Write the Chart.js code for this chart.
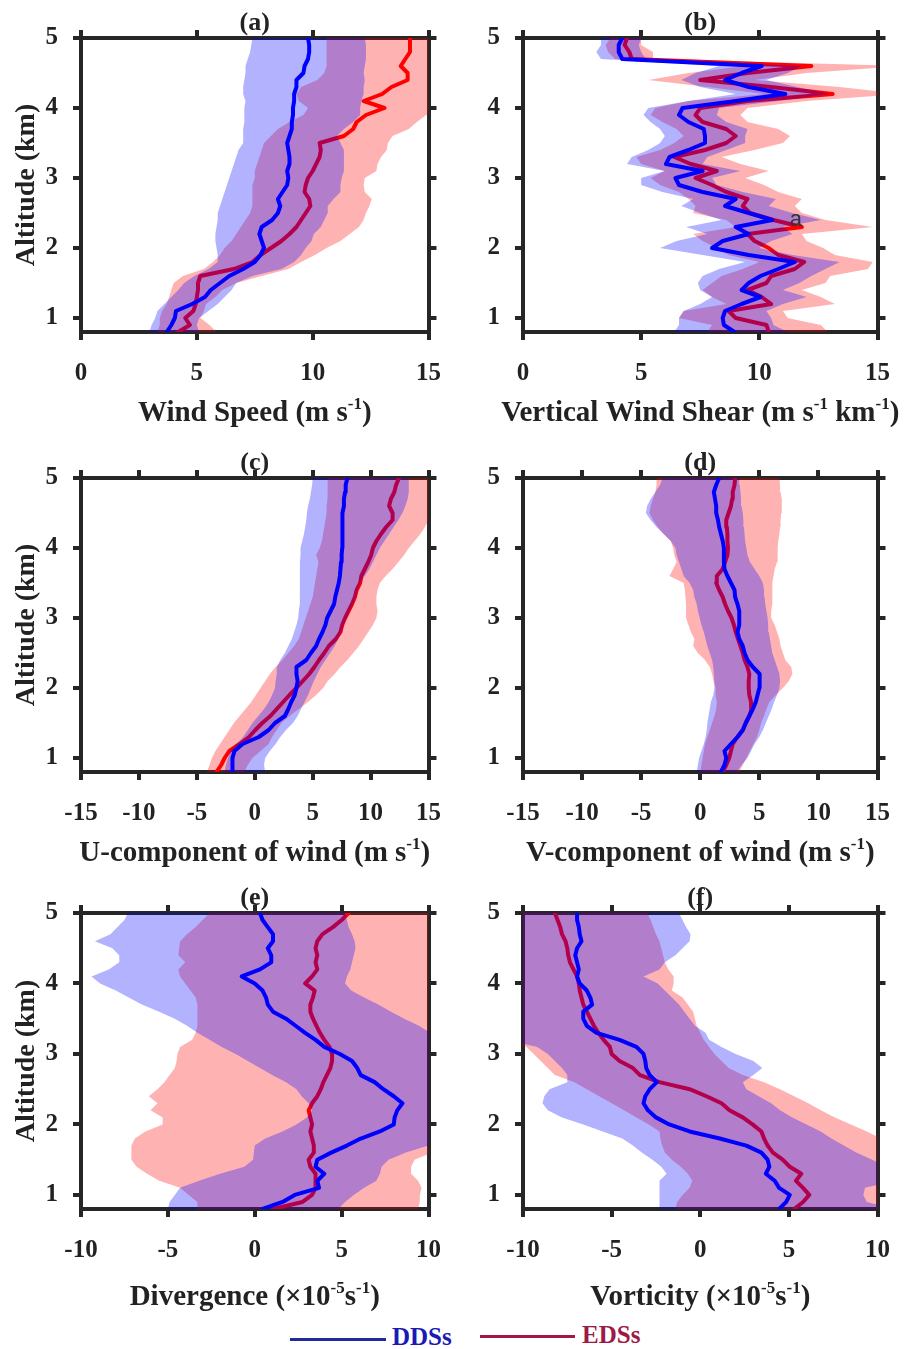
<!DOCTYPE html>
<html>
<head>
<meta charset="utf-8">
<title>DDSs vs EDSs profiles</title>
<script src="https://cdn.jsdelivr.net/npm/chart.js@4.4.1/dist/chart.umd.min.js"></script>
<style>
  html, body { margin: 0; padding: 0; background: #fff; }
  #page { position: relative; width: 909px; height: 1349px; overflow: hidden; background: #fff; }
  #page canvas { position: absolute; }
  .key { position: absolute; height: 3px; }
  .keytext { position: absolute; font: bold 25px 'Liberation Serif', 'Times New Roman', serif; line-height: 25px; }
</style>
</head>
<body>
<div id="page">
  <canvas id="panelA"></canvas>
  <canvas id="panelB"></canvas>
  <canvas id="panelC"></canvas>
  <canvas id="panelD"></canvas>
  <canvas id="panelE"></canvas>
  <canvas id="panelF"></canvas>
  <div class="key" style="left:290px; top:1338px; width:96px; background:#1f2a9c;"></div>
  <div class="keytext" style="left:392px; top:1324px; color:#1a1ab4;">DDSs</div>
  <div class="key" style="left:480px; top:1335px; width:95px; background:#a3164a;"></div>
  <div class="keytext" style="left:582px; top:1322px; color:#9c1a45;">EDSs</div>
</div>

<script>
// Altitude levels (km) shared by every profile
const altitude = [
  0.8, 0.9, 1.0, 1.1, 1.2, 1.3, 1.4, 1.5, 1.6, 1.7,
  1.8, 1.9, 2.0, 2.1, 2.2, 2.3, 2.4, 2.5, 2.6, 2.7,
  2.8, 2.9, 3.0, 3.1, 3.2, 3.3, 3.4, 3.5, 3.6, 3.7,
  3.8, 3.9, 4.0, 4.1, 4.2, 4.3, 4.4, 4.5, 4.6, 4.7,
  4.8, 4.9, 5.0
];

// Tick labels
const altitudeTicks = [1, 2, 3, 4, 5];
const speedTicks = [0, 5, 10, 15];
const componentTicks = [-15, -10, -5, 0, 5, 10, 15];
const gradientTicks = [-10, -5, 0, 5, 10];

// (a) Wind speed (m/s)
const speedDdsMean = [
  3.7, 3.9, 4.05, 4.1, 4.8, 5.35, 5.6, 6.0, 6.4, 7.0,
  7.5, 7.75, 7.9, 7.8, 7.7, 7.8, 8.25, 8.5, 8.6, 8.5,
  8.7, 8.9, 8.95, 8.9, 9.0, 9.0, 8.95, 8.9, 9.0, 9.1,
  9.1, 9.15, 9.15, 9.2, 9.2, 9.3, 9.3, 9.6, 9.65, 9.8,
  9.85, 9.85, 9.8
];
const speedDdsLow = [
  2.95, 3.05, 3.2, 3.3, 3.6, 3.9, 4.2, 4.45, 4.9, 5.5,
  5.9, 5.9, 5.85, 5.8, 5.8, 5.85, 5.9, 5.9, 6.0, 6.1,
  6.2, 6.3, 6.4, 6.5, 6.6, 6.7, 6.8, 7.0, 7.0, 7.0,
  7.05, 7.05, 7.05, 7.1, 7.0, 7.0, 7.05, 7.1, 7.1, 7.2,
  7.3, 7.35, 7.4
];
const speedDdsHigh = [
  5.1, 5.0, 5.1, 5.5, 5.9, 6.2, 6.5, 6.7, 7.4, 8.65,
  9.2, 9.5, 9.7, 9.95, 10.05, 10.35, 10.5, 10.65, 10.65, 10.9,
  11.2, 11.2, 11.25, 11.35, 11.35, 11.35, 11.35, 11.2, 11.05, 11.35,
  11.75, 12.05, 12.05, 12.1, 12.2, 12.2, 12.25, 12.2, 12.25, 12.3,
  12.3, 12.3, 12.25
];
const speedEdsMean = [
  4.2, 4.7, 4.5, 4.85, 4.95, 5.0, 5.05, 5.05, 5.15, 6.6,
  7.4, 7.75, 8.2, 8.65, 9.0, 9.3, 9.5, 9.7, 9.9, 9.85,
  9.65, 9.7, 9.8, 10.0, 10.15, 10.3, 10.35, 10.3, 11.35, 11.75,
  11.9, 12.3, 13.1, 12.2, 13.0, 13.4, 14.1, 14.1, 13.8, 14.0,
  14.2, 14.2, 14.2
];
const speedEdsLow = [
  3.3, 3.4, 3.4, 3.5, 3.7, 3.8, 3.9, 4.0, 4.4, 5.3,
  5.7, 6.0, 6.2, 6.5, 6.7, 6.9, 7.1, 7.3, 7.4, 7.4,
  7.4, 7.4, 7.5, 7.5, 7.6, 7.7, 7.8, 7.9, 8.2, 8.5,
  9.0, 9.6, 9.8, 9.4, 9.3, 9.5, 10.2, 10.5, 10.6, 10.6,
  10.6, 10.6, 10.6
];
const speedEdsHigh = [
  5.85, 5.55, 5.15, 5.3, 5.4, 5.8, 6.1, 6.7, 7.8, 8.95,
  9.5, 10.1, 10.6, 11.2, 11.6, 12.0, 12.2, 12.3, 12.45, 12.55,
  12.25, 12.2, 12.25, 12.75, 12.8, 12.95, 13.2, 13.25, 13.45, 14.15,
  14.5, 14.9, 15.5, 15.5, 15.5, 15.5, 15.5, 15.5, 15.5, 15.5,
  15.5, 15.5, 15.5
];

// (b) Vertical wind shear (m/s/km)
const shearDdsMean = [
  8.95, 8.5, 8.45, 8.55, 9.25, 10.05, 9.25, 9.55, 10.05, 10.8,
  11.5, 9.55, 8.0, 8.45, 9.55, 9.0, 10.55, 9.55, 8.55, 9.0,
  7.6, 6.6, 6.45, 7.6, 6.05, 6.2, 7.0, 7.7, 7.7, 7.65,
  7.0, 6.6, 6.75, 9.0, 11.1, 9.55, 8.55, 9.25, 10.1, 4.2,
  4.05, 4.05, 4.2
];
const shearDdsLow = [
  6.4, 6.6, 6.6, 6.8, 7.5, 8.0, 7.5, 7.4, 7.6, 8.3,
  9.4, 7.6, 5.8, 6.5, 7.8, 6.9, 8.4, 7.5, 6.7, 7.2,
  5.9, 5.0, 5.0, 6.0, 4.4, 4.6, 5.3, 5.8, 6.0, 5.8,
  5.4, 5.1, 5.3, 7.0, 9.0, 7.5, 6.7, 7.3, 8.3, 3.3,
  3.1, 3.3, 3.3
];
const shearDdsHigh = [
  11.2, 10.6, 10.5, 10.3, 11.0, 12.0, 11.0, 11.7, 12.2, 12.8,
  13.4, 11.4, 10.0, 10.5, 11.4, 11.0, 12.6, 11.4, 10.4, 10.7,
  9.3, 8.2, 8.0, 9.2, 7.6, 7.8, 8.6, 9.4, 9.4, 9.5,
  8.6, 8.2, 8.3, 10.8, 13.0, 11.6, 10.3, 11.2, 11.8, 5.2,
  5.0, 4.9, 5.0
];
const shearEdsMean = [
  10.4, 10.3, 9.0, 8.7, 10.5, 10.1, 9.5, 10.3, 10.5, 11.5,
  11.9, 10.8, 10.4, 9.8, 9.5, 11.8, 10.6, 9.6, 9.3, 9.5,
  8.6, 8.0, 7.3, 8.2, 7.1, 6.4, 7.7, 8.6, 9.0, 8.6,
  7.6, 7.3, 7.5, 9.5, 13.1, 10.5, 7.5, 9.5, 12.2, 4.6,
  4.5, 4.3, 4.4
];
const shearEdsLow = [
  7.8, 8.0, 6.6, 6.8, 8.6, 8.0, 7.6, 8.0, 8.4, 9.3,
  10.0, 8.7, 8.2, 7.6, 7.2, 9.0, 8.6, 7.2, 7.3, 7.0,
  6.6, 5.8, 5.4, 6.0, 5.0, 4.8, 5.8, 6.4, 6.8, 6.5,
  5.9, 5.4, 5.6, 7.0, 10.2, 7.8, 5.3, 7.0, 9.4, 3.9,
  3.6, 3.5, 3.7
];
const shearEdsHigh = [
  12.9, 12.6, 11.2, 11.0, 13.2, 12.6, 11.8, 12.8, 13.0, 14.6,
  14.8, 13.2, 12.7, 12.0, 11.8, 14.8, 12.8, 11.8, 11.5, 11.8,
  10.8, 10.2, 9.4, 10.4, 9.2, 8.4, 9.8, 11.0, 11.3, 10.8,
  9.5, 9.2, 9.5, 12.0, 16.0, 13.4, 9.8, 12.0, 16.0, 5.5,
  5.5, 5.0, 5.0
];

// (c) U-component (m/s)
const uDdsMean = [
  -1.9, -1.95, -1.9, -1.75, -1.05, 0.35, 1.2, 1.75, 2.6, 2.9,
  3.15, 3.45, 3.6, 3.7, 3.6, 3.6, 4.45, 4.85, 5.3, 5.55,
  5.85, 6.1, 6.25, 6.55, 6.85, 6.95, 7.1, 7.25, 7.35, 7.4,
  7.45, 7.5, 7.55, 7.55, 7.55, 7.6, 7.55, 7.6, 7.7, 7.7,
  7.8, 7.85, 8.0
];
const uDdsLow = [
  -2.6, -2.5, -2.3, -2.1, -1.6, -1.0, -0.6, -0.2, 0.3, 0.8,
  1.2, 1.5, 1.75, 1.8, 1.9, 1.9, 2.2, 2.6, 2.9, 3.2,
  3.4, 3.6, 3.75, 3.8, 3.85, 3.9, 3.9, 3.9, 3.9, 3.9,
  3.9, 3.95, 3.95, 4.1, 4.25, 4.35, 4.45, 4.5, 4.6, 4.75,
  4.85, 4.95, 5.0
];
const uDdsHigh = [
  0.9, 0.8, 0.9, 1.3, 1.8, 2.2, 2.7, 3.3, 3.7, 4.0,
  4.3, 4.6, 4.85, 5.1, 5.4, 5.7, 6.1, 6.5, 6.9, 7.2,
  7.5, 7.7, 7.95, 8.2, 8.5, 8.75, 8.9, 9.1, 9.5, 9.9,
  10.2, 10.5, 10.8, 11.2, 11.6, 12.0, 12.4, 12.75, 13.0, 13.2,
  13.3, 13.3, 13.3
];
const uEdsMean = [
  -3.3, -2.9, -2.6, -2.2, -1.3, -0.5, 0.05, 0.65, 1.35, 1.9,
  2.45, 3.0, 3.6, 4.15, 4.7, 5.15, 5.55, 6.0, 6.4, 7.0,
  7.4, 7.55, 7.8, 8.1, 8.4, 8.65, 8.8, 9.1, 9.2, 9.5,
  9.8, 10.05, 10.2, 10.5, 10.9, 11.35, 11.9, 11.9, 11.6, 11.75,
  12.05, 12.2, 12.45
];
const uEdsLow = [
  -4.15, -3.9, -3.7, -3.4, -3.0, -2.6, -2.2, -1.8, -1.3, -0.8,
  -0.3, 0.1, 0.5, 0.9, 1.3, 1.8, 2.4, 2.9, 3.4, 3.8,
  4.0, 4.2, 4.4, 4.6, 4.8, 5.0, 5.1, 5.2, 5.3, 5.4,
  5.5, 5.3, 5.6, 5.8, 5.9, 6.0, 6.1, 6.2, 6.2, 6.25,
  6.3, 6.3, 6.3
];
const uEdsHigh = [
  -0.9, -0.6, -0.2, 0.5, 1.2, 1.5, 1.9, 2.3, 3.0, 3.8,
  4.6, 5.3, 5.9, 6.3, 6.9, 7.4, 8.0, 8.5, 9.0, 9.4,
  9.8, 10.2, 10.5, 10.6, 10.5, 10.5, 10.6, 10.8, 11.3, 11.9,
  12.4, 12.9, 13.3, 13.8, 14.3, 14.7, 15.0, 15.3, 15.5, 15.5,
  15.5, 15.5, 15.5
];

// (d) V-component (m/s)
const vDdsMean = [
  1.75, 2.05, 2.2, 2.05, 2.6, 3.15, 3.6, 3.85, 4.15, 4.45,
  4.7, 4.85, 5.0, 5.05, 5.0, 4.45, 4.0, 3.75, 3.6, 3.3,
  3.15, 3.3, 3.3, 3.3, 3.15, 2.95, 2.9, 2.6, 2.3, 2.05,
  2.0, 2.0, 2.0, 1.9, 1.75, 1.6, 1.5, 1.35, 1.35, 1.25,
  1.15, 1.35, 1.6
];
const vDdsLow = [
  -0.3, -0.2, -0.1, 0.1, 0.3, 0.45, 0.55, 0.6, 0.7, 0.8,
  0.9, 1.1, 1.2, 1.2, 1.15, 1.1, 1.0, 0.8, 0.6, 0.45,
  0.3, 0.1, -0.05, -0.2, -0.3, -0.5, -0.6, -0.9, -1.4, -1.6,
  -1.8, -2.0, -2.1, -2.5, -3.1, -3.7, -4.2, -4.6, -4.5, -4.2,
  -3.8, -3.4, -3.2
];
const vDdsHigh = [
  3.1, 3.5, 4.0, 4.3, 4.6, 5.0, 5.3, 5.55, 5.8, 6.05,
  6.25, 6.5, 6.7, 6.75, 6.7, 6.5, 6.3, 6.1, 6.0, 5.9,
  5.8, 5.75, 5.7, 5.6, 5.5, 5.45, 5.4, 5.3, 5.0, 4.6,
  4.2, 4.0, 3.9, 3.8, 3.75, 3.7, 3.65, 3.6, 3.5, 3.45,
  3.4, 3.35, 3.3
];
const vEdsMean = [
  1.9, 2.2, 2.45, 2.6, 2.75, 3.15, 3.6, 3.85, 4.15, 4.35,
  4.3, 4.15, 4.1, 4.1, 4.15, 4.0, 3.75, 3.6, 3.4, 3.2,
  3.0, 2.85, 2.65, 2.35, 2.1, 1.9, 1.6, 1.35, 1.4, 1.9,
  2.1, 2.3, 2.35, 2.3, 2.3, 2.25, 2.2, 2.4, 2.6, 2.7,
  2.75, 2.9, 2.95
];
const vEdsLow = [
  0.0, 0.1, 0.2, 0.3, 0.4, 0.6, 0.8, 1.0, 1.2, 1.35,
  1.4, 1.3, 1.3, 1.1, 1.0, 0.8, 0.4, -0.2, -0.6, -0.5,
  -0.8, -1.0, -1.2, -1.2, -1.2, -1.25, -1.3, -1.4, -2.6, -2.3,
  -2.0, -2.2, -2.3, -2.5, -3.1, -3.6, -4.0, -4.3, -4.2, -4.0,
  -3.8, -3.7, -3.7
];
const vEdsHigh = [
  3.3, 3.6, 3.9, 4.2, 4.5, 4.8, 5.0, 5.15, 5.4, 5.6,
  5.85, 6.4, 7.0, 7.5, 7.8, 7.7, 7.2, 7.0, 6.8, 6.7,
  6.5, 6.3, 6.0, 6.0, 6.1, 6.1, 6.1, 6.1, 6.2, 6.3,
  6.5, 6.55, 6.55, 6.6, 6.7, 6.75, 6.8, 6.85, 6.9, 6.9,
  6.8, 6.75, 6.7
];

// (e) Divergence (1e-5 /s)
const divDdsMean = [
  0.45, 1.6, 2.3, 3.7, 3.6, 4.0, 3.5, 3.6, 4.4, 5.3,
  6.1, 7.2, 8.0, 8.05, 8.2, 8.5, 8.0, 7.4, 6.9, 6.1,
  5.9, 5.6, 4.9, 4.0, 3.5, 2.9, 2.35, 1.8, 1.05, 0.75,
  0.65, 0.45, 0.0, -0.75, 0.3, 0.95, 0.95, 0.75, 1.05, 1.05,
  0.75, 0.45, 0.3
];
const divDdsLow = [
  -5.0, -4.9, -4.6, -4.3, -3.2, -2.0, -0.6, -0.1, -0.05, 0.0,
  0.6, 1.6, 2.4, 3.0, 3.3, 3.1, 2.7, 2.4, 1.8, 1.0,
  0.3, -0.4, -1.1, -1.9, -2.6, -3.3, -3.9, -4.6, -5.5, -6.5,
  -7.25, -8.0, -8.9, -9.4, -8.4, -7.8, -7.8, -8.2, -9.2, -8.3,
  -7.9, -7.5, -7.3
];
const divDdsHigh = [
  4.8, 5.2, 5.7, 6.3, 7.0, 7.2, 7.3, 7.7, 8.7, 10.0,
  11, 11, 11, 11, 11, 11, 11, 11, 11, 11,
  11, 11, 11, 11, 11, 10.1, 9.45, 8.6, 7.85, 7.1,
  6.3, 5.55, 5.2, 5.3, 5.5, 5.6, 5.7, 5.8, 5.75, 5.6,
  5.4, 5.3, 5.2
];
const divEdsMean = [
  1.05, 2.75, 3.3, 3.5, 3.5, 3.5, 3.2, 3.1, 3.4, 3.4,
  3.3, 3.2, 3.3, 3.2, 3.1, 3.3, 3.6, 3.8, 3.95, 4.15,
  4.35, 4.45, 4.45, 4.3, 4.0, 3.75, 3.55, 3.35, 3.2, 3.2,
  3.35, 3.45, 2.9, 3.3, 3.6, 3.5, 3.6, 3.5, 3.6, 3.9,
  4.5, 5.0, 5.4
];
const divEdsLow = [
  -3.3, -3.3, -3.8, -4.3, -5.5, -6.2, -6.8, -7.1, -7.1, -7.1,
  -6.9, -6.3, -5.3, -5.3, -6.0, -5.6, -6.1, -5.6, -5.2, -4.9,
  -4.6, -4.5, -4.45, -4.3, -3.6, -3.4, -3.3, -3.3, -3.3, -3.3,
  -3.4, -3.7, -4.0, -4.3, -4.4, -4.0, -4.4, -4.35, -4.3, -3.9,
  -3.4, -3.0, -2.6
];
const divEdsHigh = [
  9.4, 9.5, 9.5, 9.6, 9.4, 9.0, 9.0, 9.2, 10.2, 10.6,
  11, 11, 11, 11, 11, 11, 11, 11, 11, 11,
  11, 11, 11, 11, 11, 11, 11, 11, 11, 11,
  11, 11, 11, 11, 11, 11, 11, 11, 11, 11,
  11, 11, 11
];

// (f) Vorticity (1e-5 /s)
const vortDdsMean = [
  4.45, 4.85, 5.05, 4.45, 4.2, 3.7, 3.9, 3.8, 3.45, 2.6,
  1.1, -0.6, -1.75, -2.5, -2.95, -3.2, -3.1, -2.85, -2.45, -2.85,
  -3.05, -3.1, -3.2, -3.6, -4.55, -5.85, -6.4, -6.6, -6.6, -6.1,
  -6.2, -6.4, -6.8, -6.95, -6.85, -6.95, -7.05, -6.95, -6.7, -6.8,
  -6.85, -6.95, -6.95
];
const vortDdsLow = [
  -2.3, -2.3, -2.3, -2.3, -2.3, -1.9, -2.2, -2.7, -3.3, -3.8,
  -4.4, -5.5, -6.6, -7.8, -8.6, -8.9, -8.8, -8.5, -7.5, -7.5,
  -7.8, -8.2, -8.6, -9.2, -11, -11, -11, -11, -11, -11,
  -11, -11, -11, -11, -11, -11, -11, -11, -11, -11,
  -11, -11, -11
];
const vortDdsHigh = [
  11, 9.4, 9.2, 9.3, 11, 11, 10.5, 9.7, 8.8, 8.1,
  7.4, 6.8, 6.0, 5.2, 4.5, 4.0, 3.3, 2.6, 2.4, 3.0,
  3.5, 3.0, 2.0, 1.2, 0.5, 0.3, -0.3, -0.6, -0.9, -1.2,
  -1.6, -2.0, -2.4, -3.2, -2.3, -2.0, -1.4, -1.0, -0.6, -0.55,
  -0.8, -1.0, -1.2
];
const vortEdsMean = [
  5.3, 5.8, 6.15, 5.8, 5.4, 5.7, 5.05, 4.65, 4.1, 3.8,
  3.6, 3.45, 2.95, 2.4, 1.65, 1.2, 0.35, -0.6, -2.3, -3.4,
  -3.8, -4.55, -5.0, -5.1, -5.45, -5.75, -6.0, -6.2, -6.4, -6.6,
  -6.7, -6.8, -6.85, -6.95, -7.15, -7.35, -7.45, -7.5, -7.6, -7.8,
  -7.9, -8.05, -8.2
];
const vortEdsLow = [
  -1.4, -1.3, -1.0, -0.6, -0.45, -0.7, -1.1, -1.6, -2.0, -2.15,
  -2.25, -2.3, -2.9, -3.6, -4.3, -5.0, -5.7, -6.4, -7.1, -8.2,
  -8.6, -9.0, -9.4, -9.8, -11, -11, -11, -11, -11, -11,
  -11, -11, -11, -11, -11, -11, -11, -11, -11, -11,
  -11, -11, -11
];
const vortEdsHigh = [
  11, 11, 11, 11, 11, 11, 11, 11, 11, 11,
  10.2, 9.4, 8.5, 7.6, 6.8, 6.1, 5.3, 4.5, 3.6, 2.4,
  1.6, 1.2, 0.8, 0.5, 0.2, 0.0, -0.2, -0.3, -0.4, -0.7,
  -1.0, -1.6, -1.5, -1.5, -1.8, -2.0, -2.1, -2.2, -2.3, -2.5,
  -2.65, -2.8, -3.0
];

const SERIF = "'Liberation Serif', 'Times New Roman', serif";
const FRAME = '#262626';
const INK = '#222';

// one panel per canvas; box = canvas on the page, plot = frame edges on the page
const panels = [
  {
    id: 'panelA', tag: '(a)', yTitle: true, titleDrop: 89,
    box: {left: 0, top: 0, width: 460, height: 440},
    plot: {l: 81, r: 437, t: 38, b: 332},
    xMin: 0, xMax: 15, xTicks: speedTicks,
    xTitle: [['Wind Speed (m s'], ['-1', true], [')']],
    eds: {mean: speedEdsMean, low: speedEdsLow, high: speedEdsHigh},
    dds: {mean: speedDdsMean, low: speedDdsLow, high: speedDdsHigh}
  },
  {
    id: 'panelB', tag: '(b)', yTitle: false, titleDrop: 89,
    box: {left: 460, top: 0, width: 449, height: 440},
    plot: {l: 523, r: 879, t: 38, b: 332},
    xMin: 0, xMax: 15, xTicks: speedTicks,
    xTitle: [['Vertical Wind Shear (m s'], ['-1', true], [' km'], ['-1', true], [')']],
    note: {text: 'a', x: 11.55, y: 2.4},
    eds: {mean: shearEdsMean, low: shearEdsLow, high: shearEdsHigh},
    dds: {mean: shearDdsMean, low: shearDdsLow, high: shearDdsHigh}
  },
  {
    id: 'panelC', tag: '(c)', yTitle: true, titleDrop: 89,
    box: {left: 0, top: 440, width: 460, height: 440},
    plot: {l: 81, r: 437, t: 478, b: 772},
    xMin: -15, xMax: 15, xTicks: componentTicks,
    xTitle: [['U-component of wind (m s'], ['-1', true], [')']],
    eds: {mean: uEdsMean, low: uEdsLow, high: uEdsHigh},
    dds: {mean: uDdsMean, low: uDdsLow, high: uDdsHigh}
  },
  {
    id: 'panelD', tag: '(d)', yTitle: false, titleDrop: 89,
    box: {left: 460, top: 440, width: 449, height: 440},
    plot: {l: 523, r: 879, t: 478, b: 772},
    xMin: -15, xMax: 15, xTicks: componentTicks,
    xTitle: [['V-component of wind (m s'], ['-1', true], [')']],
    eds: {mean: vEdsMean, low: vEdsLow, high: vEdsHigh},
    dds: {mean: vDdsMean, low: vDdsLow, high: vDdsHigh}
  },
  {
    id: 'panelE', tag: '(e)', yTitle: true, titleDrop: 96,
    box: {left: 0, top: 880, width: 460, height: 440},
    plot: {l: 81, r: 436, t: 913, b: 1209},
    xMin: -10, xMax: 10, xTicks: gradientTicks,
    xTitle: [['Divergence (\u00d710'], ['-5', true], ['s'], ['-1', true], [')']],
    eds: {mean: divEdsMean, low: divEdsLow, high: divEdsHigh},
    dds: {mean: divDdsMean, low: divDdsLow, high: divDdsHigh}
  },
  {
    id: 'panelF', tag: '(f)', yTitle: false, titleDrop: 96,
    box: {left: 460, top: 880, width: 449, height: 440},
    plot: {l: 523, r: 878, t: 913, b: 1209},
    xMin: -10, xMax: 10, xTicks: gradientTicks,
    xTitle: [['Vorticity (\u00d710'], ['-5', true], ['s'], ['-1', true], [')']],
    eds: {mean: vortEdsMean, low: vortEdsLow, high: vortEdsHigh},
    dds: {mean: vortDdsMean, low: vortDdsLow, high: vortDdsHigh}
  }
];

function profile(values) {
  return altitude.map((a, i) => ({x: values[i], y: a}));
}

function bandEdge(label, values, order, fillColor) {
  return {
    label: label,
    data: profile(values),
    borderWidth: 0,
    borderColor: 'transparent',
    backgroundColor: fillColor || 'transparent',
    pointRadius: 0,
    fill: fillColor ? '-1' : false,
    order: order
  };
}

function meanLine(label, values, color, order) {
  return {
    label: label,
    data: profile(values),
    borderColor: color,
    borderWidth: 4,
    borderJoinStyle: 'round',
    borderCapStyle: 'round',
    pointRadius: 0,
    fill: false,
    order: order
  };
}

// text with raised exponents, centred on cx, baseline at y
function drawRichText(ctx, parts, cx, y) {
  const big = 'bold 29px ' + SERIF;
  const small = 'bold 17px ' + SERIF;
  let total = 0;
  const sized = parts.map(p => {
    ctx.font = p[1] ? small : big;
    const w = ctx.measureText(p[0]).width;
    total += w;
    return {text: p[0], sup: !!p[1], w: w};
  });
  let x = cx - total / 2;
  ctx.textAlign = 'left';
  ctx.textBaseline = 'alphabetic';
  sized.forEach(p => {
    ctx.font = p.sup ? small : big;
    ctx.fillText(p.text, x, p.sup ? y - 12 : y);
    x += p.w;
  });
}

function panelDecor(p) {
  return {
    id: 'panelDecor',
    afterDraw(chart) {
      const {ctx, chartArea} = chart;
      const cx = (chartArea.left + chartArea.right) / 2;
      ctx.save();
      ctx.fillStyle = INK;
      ctx.font = 'bold 26px ' + SERIF;
      ctx.textAlign = 'center';
      ctx.textBaseline = 'alphabetic';
      ctx.fillText(p.tag, cx, chartArea.top - 8);
      drawRichText(ctx, p.xTitle, cx, chartArea.bottom + p.titleDrop);
      if (p.note) {
        const nx = chart.scales.x.getPixelForValue(p.note.x);
        const ny = chart.scales.y.getPixelForValue(p.note.y);
        ctx.font = '22px "Liberation Sans", Arial, sans-serif';
        ctx.fillStyle = '#333';
        ctx.textAlign = 'center';
        ctx.textBaseline = 'middle';
        ctx.fillText(p.note.text, nx, ny);
      }
      ctx.restore();
    }
  };
}

function buildScales(p) {
  const boxRight = p.box.left + p.box.width;
  const boxBottom = p.box.top + p.box.height;
  const tickFont = {family: SERIF, size: 25, weight: 'bold'};
  const grid = {
    display: true, drawOnChartArea: false, drawTicks: true,
    tickLength: 8, tickWidth: 4, tickColor: FRAME, lineWidth: 4, color: FRAME
  };
  const border = {display: true, width: 4, color: FRAME};
  const fixed = values => scale => { scale.ticks = values.map(v => ({value: v})); };
  return {
    x: {
      type: 'linear', position: 'bottom', min: p.xMin, max: p.xMax, z: 1,
      grid: grid, border: border,
      ticks: {font: tickFont, color: INK, padding: 19, maxRotation: 0},
      afterBuildTicks: fixed(p.xTicks),
      afterFit: s => { s.height = boxBottom - p.plot.b; }
    },
    x2: {
      type: 'linear', position: 'top', min: p.xMin, max: p.xMax, z: 1,
      grid: grid, border: border, ticks: {display: false},
      afterBuildTicks: fixed(p.xTicks),
      afterFit: s => { s.height = p.plot.t - p.box.top; }
    },
    y: {
      type: 'linear', position: 'left', min: 0.8, max: 5, z: 1,
      grid: grid, border: border,
      ticks: {font: tickFont, color: INK, padding: 15},
      afterBuildTicks: fixed(altitudeTicks),
      afterFit: s => { s.width = p.plot.l - p.box.left; },
      title: {
        display: p.yTitle, text: 'Altitude (km)', color: INK,
        font: {family: SERIF, size: 28, weight: 'bold'},
        padding: {top: 10, bottom: 0}
      }
    },
    y2: {
      type: 'linear', position: 'right', min: 0.8, max: 5, z: 1,
      grid: grid, border: border, ticks: {display: false},
      afterBuildTicks: fixed(altitudeTicks),
      afterFit: s => { s.width = boxRight - p.plot.r; }
    }
  };
}

panels.forEach(p => {
  const canvas = document.getElementById(p.id);
  canvas.width = p.box.width;
  canvas.height = p.box.height;
  canvas.style.left = p.box.left + 'px';
  canvas.style.top = p.box.top + 'px';
  canvas.style.width = p.box.width + 'px';
  canvas.style.height = p.box.height + 'px';

  // drawn bottom-up: EDS band, EDS line, DDS band (tints the red line), DDS line
  const datasets = [
    bandEdge('EDSs lower', p.eds.low, 6),
    bandEdge('EDSs upper', p.eds.high, 5, 'rgba(255, 0, 0, 0.3)'),
    meanLine('EDSs', p.eds.mean, '#ff0000', 4),
    bandEdge('DDSs lower', p.dds.low, 3),
    bandEdge('DDSs upper', p.dds.high, 2, 'rgba(0, 0, 255, 0.3)'),
    meanLine('DDSs', p.dds.mean, '#0000ff', 1)
  ];

  new Chart(canvas, {
    type: 'line',
    data: {datasets: datasets},
    options: {
      indexAxis: 'y',
      responsive: false,
      animation: false,
      devicePixelRatio: 1,
      layout: {padding: 0},
      scales: buildScales(p),
      plugins: {
        legend: {display: false},
        tooltip: {enabled: false}
      }
    },
    plugins: [panelDecor(p)]
  });
});
</script>
</body>
</html>
